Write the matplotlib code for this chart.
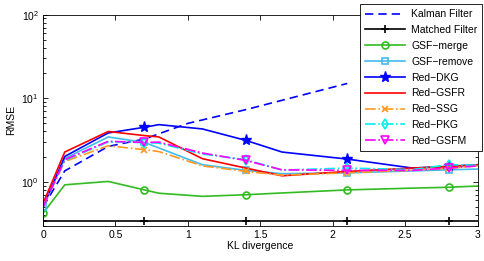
import matplotlib
matplotlib.use("Agg")
import matplotlib.pyplot as plt

plt.rcParams['font.family'] = ['Liberation Sans', 'DejaVu Sans']
plt.rcParams['mathtext.fontset'] = 'custom'
plt.rcParams['mathtext.rm'] = 'Liberation Sans'

# KL divergence grid
kl = [0, 0.15, 0.45, 0.7, 0.8, 1.1, 1.4, 1.65, 2.1, 2.55, 2.8, 3.0]
kalman_kl = [0, 0.15, 0.45, 0.7, 1.0, 1.4, 2.1]

kalman = [0.5, 1.35, 2.65, 3.25, 5.0, 7.3, 15.0]
matched = [0.335] * len(kl)
gsf_merge = [0.42, 0.92, 1.01, 0.80, 0.73, 0.67, 0.70, 0.735, 0.80, 0.84, 0.86, 0.89]
gsf_remove = [0.5, 1.9, 3.44, 2.96, 2.54, 1.6, 1.37, 1.25, 1.28, 1.35, 1.39, 1.42]
red_dkg = [0.5, 2.01, 3.84, 4.49, 4.83, 4.29, 3.13, 2.27, 1.87, 1.46, 1.53, 1.6]
red_gsfr = [0.55, 2.27, 4.0, 3.57, 3.44, 1.89, 1.46, 1.18, 1.33, 1.46, 1.52, 1.6]
red_ssg = [0.5, 1.75, 2.7, 2.42, 2.3, 1.55, 1.33, 1.2, 1.28, 1.38, 1.45, 1.55]
red_pkg = [0.5, 1.8, 3.0, 2.95, 2.9, 2.15, 1.84, 1.38, 1.46, 1.4, 1.6, 1.58]
red_gsfm = [0.5, 1.84, 3.05, 2.96, 2.98, 2.21, 1.80, 1.39, 1.37, 1.37, 1.46, 1.55]

marks = [0, 3, 6, 8, 10]
lw = 1.2

fig = plt.figure(figsize=(4.85, 2.61), dpi=100)
ax = fig.add_axes([0.0887, 0.136, 0.896, 0.808])

ax.plot(kalman_kl, kalman, color='#0000ff', ls=(0, (5, 3)), lw=lw, label='Kalman Filter')
ax.plot(kl, matched, color='black', lw=lw, marker='+', ms=6, mew=1.2,
        markevery=marks, label='Matched Filter')
ax.plot(kl, gsf_merge, color='#33bb22', lw=lw, marker='o', ms=5, mfc='none', mew=1.2,
        markevery=marks, label='GSF\u2212merge')
ax.plot(kl, gsf_remove, color='#44bbee', lw=lw, marker='s', ms=5, mfc='none', mew=1.2,
        markevery=marks, label='GSF\u2212remove')
ax.plot(kl, red_dkg, color='#0000ff', lw=lw, marker='*', ms=8,
        markevery=marks[1:], label='Red\u2212DKG')
ax.plot(kl, red_gsfr, color='#ff0000', lw=lw, label='Red\u2212GSFR')
ax.plot(kl, red_ssg, color='#ff9922', ls='-.', lw=lw, marker='x', ms=5, mew=1.2,
        markevery=marks[1:], label='Red\u2212SSG')
ax.plot(kl, red_pkg, color='#00eeee', ls='-.', lw=lw, marker='d', ms=5, mfc='none', mew=1.2,
        markevery=marks[1:], label='Red\u2212PKG')
ax.plot(kl, red_gsfm, color='#ff00ff', ls='-.', lw=lw, marker='v', ms=6, mfc='none', mew=1.2,
        markevery=marks[1:], label='Red\u2212GSFM')

ax.set_yscale('log')
ax.set_xlim(0, 3)
ax.set_ylim(0.3, 100)
ax.set_xticks([0, 0.5, 1, 1.5, 2, 2.5, 3])
ax.set_xticklabels(['0', '0.5', '1', '1.5', '2', '2.5', '3'])
ax.set_yticks([1, 10, 100])
ax.tick_params(which='both', direction='in', top=True, right=True, labelsize=7.5, width=0.6)
ax.tick_params(which='major', length=3.5, pad=3)
ax.tick_params(which='minor', length=2)
for s in ax.spines.values():
    s.set_linewidth(0.6)

ax.set_xlabel('KL divergence', fontsize=7.5, labelpad=1)
ax.set_ylabel('RMSE', fontsize=7.5, labelpad=4)

leg = ax.legend(loc='upper right', bbox_to_anchor=(482.5 / 485, 1 - 4 / 261),
                bbox_transform=fig.transFigure, fontsize=7.5, frameon=True,
                fancybox=False, edgecolor='black', framealpha=1, handlelength=3.8,
                labelspacing=0.56, borderpad=0.5, handletextpad=0.6, borderaxespad=0)
leg.get_frame().set_linewidth(0.6)

fig.savefig('out.png', dpi=100)
